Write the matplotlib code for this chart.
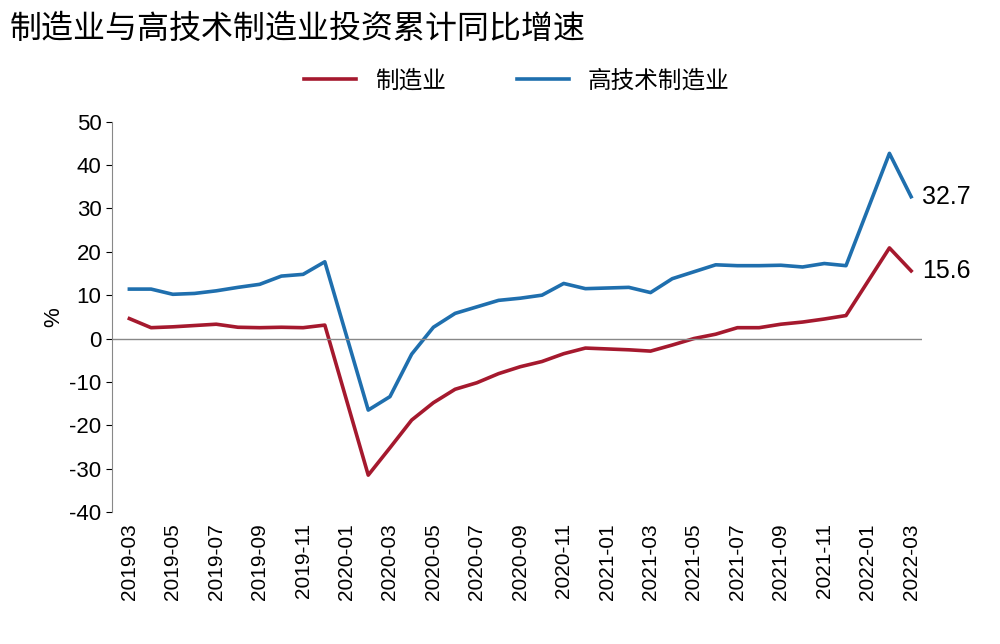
import matplotlib.pyplot as plt
import numpy as np

plt.rcParams["font.family"] = ["Noto Sans CJK SC", "DejaVu Sans"]

months = [f"{y}-{m:02d}" for y in (2019, 2020, 2021, 2022) for m in range(1, 13)][2:39]
nan = np.nan
manufacturing = [4.6, 2.5, 2.7, 3.0, 3.3, 2.6, 2.5, 2.6, 2.5, 3.1,
                 nan, -31.5, -25.2, -18.8, -14.8, -11.7, -10.2, -8.1, -6.5, -5.3, -3.5, -2.2,
                 nan, -2.6, -2.9, -1.5, 0.0, 1.0, 2.5, 2.5, 3.3, 3.8, 4.5, 5.3,
                 nan, 20.9, 15.6]
hightech = [11.4, 11.4, 10.2, 10.4, 11.0, 11.8, 12.5, 14.4, 14.8, 17.7,
            nan, -16.5, -13.4, -3.6, 2.6, 5.8, 7.3, 8.8, 9.3, 10.0, 12.7, 11.5,
            nan, 11.8, 10.6, 13.8, 15.4, 17.0, 16.8, 16.8, 16.9, 16.5, 17.3, 16.8,
            nan, 42.7, 32.7]

num_font = "Liberation Sans"

fig = plt.figure(figsize=(10, 6.44), dpi=100)
ax = fig.add_axes([0.112, 0.205, 0.81, 0.606])
x = np.arange(len(months))
for vals, color, label in [(manufacturing, "#A5192E", "制造业"), (hightech, "#1F6FAE", "高技术制造业")]:
    v = np.array(vals)
    ok = ~np.isnan(v)
    ax.plot(x[ok], v[ok], color=color, lw=2.6, label=label)
    ax.text(x[-1] + 0.5, v[-1], f"{v[-1]:.1f}", fontsize=18, va="center", ha="left",
            family=num_font)

ax.set_ylim(-40, 50)
ax.set_yticks(range(-40, 51, 10))
ax.set_yticklabels([str(t) for t in range(-40, 51, 10)], family=num_font, fontsize=16)
ax.set_xlim(-0.8, len(months) - 0.5)
ax.set_xticks(x[::2])
ax.set_xticklabels(months[::2], rotation=90, fontsize=15, family=num_font)
ax.tick_params(axis="x", length=0, pad=8)
ax.tick_params(axis="y", direction="out", length=4)
ax.axhline(0, color="#888888", lw=1)
for s in ("top", "right", "bottom"):
    ax.spines[s].set_visible(False)
ax.spines["left"].set_color("#888888")
ax.set_ylabel("%", fontsize=16, family=num_font)
ax.legend(loc="lower center", bbox_to_anchor=(0.5, 1.02), ncol=2, frameon=False,
          fontsize=17, handlelength=2.2, columnspacing=3)
fig.text(0.01, 0.955, "制造业与高技术制造业投资累计同比增速", fontsize=23, va="center")
fig.savefig("out.png", dpi=100, facecolor="white")
